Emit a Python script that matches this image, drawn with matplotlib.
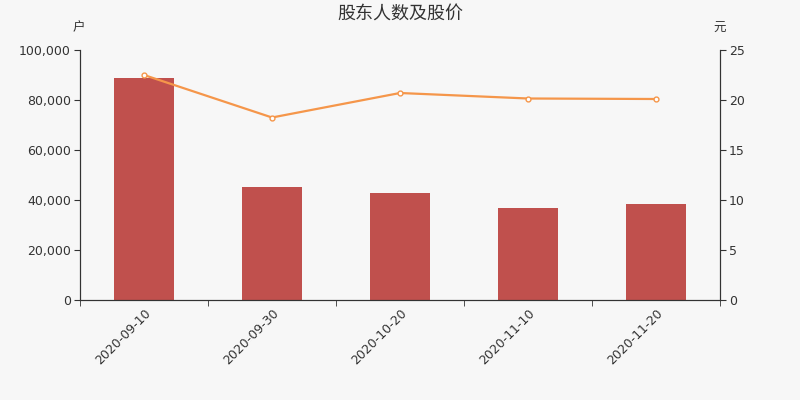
import numpy as np
import matplotlib.pyplot as plt
from matplotlib.ticker import FuncFormatter, FixedLocator

plt.rcParams['font.family'] = ['DejaVu Sans', 'Noto Sans CJK SC']

dates = ["2020-09-10", "2020-09-30", "2020-10-20", "2020-11-10", "2020-11-20"]
holders = [88700, 45200, 42800, 36800, 38300]
price = [22.5, 18.25, 20.7, 20.15, 20.1]

bg = "#f7f7f7"
txt = "#333333"

fig = plt.figure(figsize=(8, 4), dpi=100, facecolor=bg)
ax = fig.add_axes([0.1, 0.25, 0.8, 0.625], facecolor=bg)
ax2 = ax.twinx()

x = np.arange(len(dates))
ax.bar(x, holders, width=0.47, color="#c0504d", zorder=2)
ax.set_xlim(-0.5, len(dates) - 0.5)
ax.set_ylim(0, 100000)
ax.set_yticks(np.arange(0, 100001, 20000))
ax.yaxis.set_major_formatter(FuncFormatter(lambda v, p: f"{int(v):,}"))

ax.set_xticks(x)
ax.set_xticklabels(dates, rotation=45, ha="right", rotation_mode="anchor")
ax.xaxis.set_minor_locator(FixedLocator(np.arange(-0.5, len(dates), 1)))
ax.tick_params(axis="x", which="major", length=0, pad=5)
ax.tick_params(axis="x", which="minor", length=4, color=txt)
for a in (ax, ax2):
    a.tick_params(labelsize=9, labelcolor=txt)
    a.tick_params(axis="y", length=4, color=txt, pad=2.5)
    a.spines["top"].set_visible(False)
    for s in ("left", "right", "bottom"):
        a.spines[s].set_color(txt)

ax2.plot(x, price, color="#f5964a", lw=1.6, marker="o", ms=3.5,
         markerfacecolor="white", markeredgecolor="#f5964a", markeredgewidth=1, zorder=3)
ax2.set_ylim(0, 25)
ax2.set_yticks(np.arange(0, 26, 5))

fig.text(0.5, 0.965, "股东人数及股价", ha="center", va="center", fontsize=13, color=txt,
         family=['Noto Sans CJK SC', 'DejaVu Sans'])
fig.text(0.098, 0.93, "户", ha="center", va="center", fontsize=9, color=txt,
         family=['Noto Sans CJK SC', 'DejaVu Sans'])
fig.text(0.9, 0.93, "元", ha="center", va="center", fontsize=9, color=txt,
         family=['Noto Sans CJK SC', 'DejaVu Sans'])

fig.savefig("out.png", dpi=100, facecolor=bg)
